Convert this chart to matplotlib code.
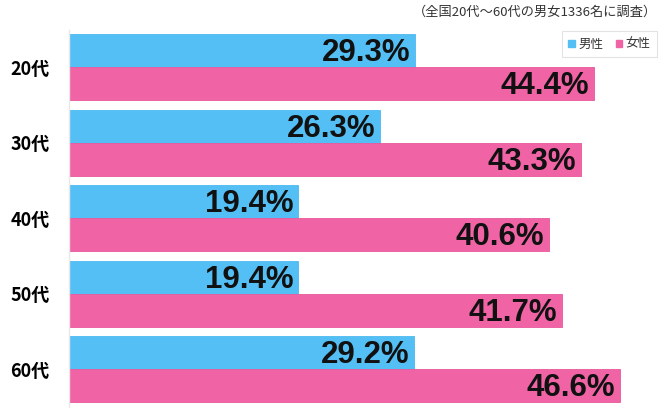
import matplotlib.pyplot as plt
import numpy as np
from matplotlib.patches import Patch

# ---------------- DATA ----------------
ages = ["20代", "30代", "40代", "50代", "60代"]
male = [29.3, 26.3, 19.4, 19.4, 29.2]
female = [44.4, 43.3, 40.6, 41.7, 46.6]
series_names = ["男性", "女性"]
note = "（全国20代〜60代の男女1336名に調査）"
# --------------------------------------

BLUE = "#53bff4"
PINK = "#f064a6"
FONT = ["Noto Sans CJK JP", "DejaVu Sans"]
plt.rcParams["font.family"] = FONT

fig = plt.figure(figsize=(6.6, 4.17), dpi=100)
ax = fig.add_axes([69 / 660, 10 / 417, 591 / 660, 377.5 / 417])

h = 33 / 75.5
y = np.arange(len(ages))
ax.barh(y - h / 2, male, height=h, color=BLUE, edgecolor="#4dbaf0", linewidth=0.6)
ax.barh(y + h / 2, female, height=h, color=PINK, edgecolor="#e8589c", linewidth=0.6)

num_font = ["Liberation Sans", "DejaVu Sans"]
for i in range(len(ages)):
    ax.text(male[i] - 0.4, y[i] - h / 2 + 0.03, f"{male[i]:.1f}%",
            ha="right", va="center", fontsize=22.5, fontweight="bold",
            color="#111", family=num_font)
    ax.text(female[i] - 0.4, y[i] + h / 2 + 0.03, f"{female[i]:.1f}%",
            ha="right", va="center", fontsize=22.5, fontweight="bold",
            color="#111", family=num_font)

ax.set_xlim(0, 50)
ax.set_ylim(4.5, -0.5)
ax.set_yticks(y)
ax.set_yticklabels(ages, fontsize=13, fontweight="bold")
ax.tick_params(axis="y", length=0, pad=14)
ax.set_xticks([])
for s in ["top", "right", "bottom"]:
    ax.spines[s].set_visible(False)
ax.spines["left"].set_color("#e8e8e8")
ax.spines["left"].set_linewidth(1)

fig.text(657 / 660, 1 - 12 / 417, note, ha="right", va="center",
         fontsize=9.5, color="#333")

handles = [Patch(color=BLUE), Patch(color=PINK)]
leg = fig.legend(handles, series_names, loc="upper right",
                 bbox_to_anchor=(1.005, 1 - 25 / 417), ncol=2, fontsize=9,
                 handlelength=0.5, handleheight=0.5, handletextpad=0.3,
                 columnspacing=1.0, frameon=True, fancybox=False,
                 borderpad=0.5)
leg.get_frame().set_edgecolor("#dddddd")
leg.get_frame().set_linewidth(0.8)
for t in leg.get_texts():
    t.set_color("#333")

fig.savefig("out.png", dpi=100)
